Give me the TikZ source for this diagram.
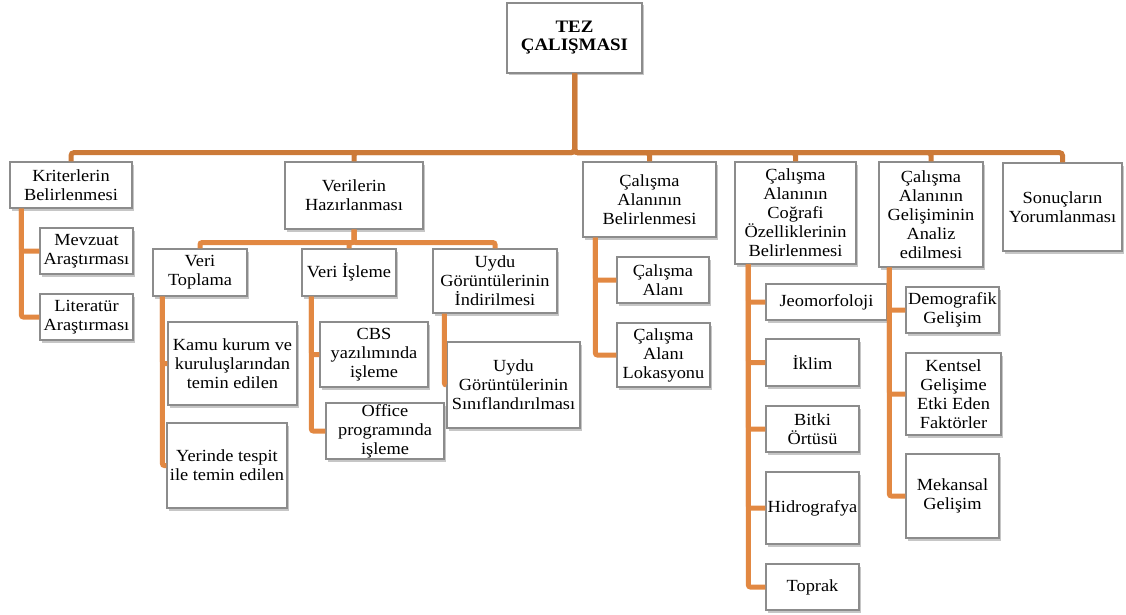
\documentclass[tikz,border=0pt]{standalone}
\usepackage{fontspec}
\setmainfont[FakeStretch=1.08]{Liberation Serif}
\usetikzlibrary{shadows}
\definecolor{linkorange}{RGB}{226,136,66}
\definecolor{trunkorange}{RGB}{204,122,56}
\definecolor{boxgray}{RGB}{140,140,140}
\tikzset{
    x=1pt,
    y=-1pt,
    box/.style = {
        draw=boxgray,
        fill=white,
        shape=rectangle,
        line width=1.2pt,
        align=center,
        inner sep=1pt,
        font=\fontsize{17}{19}\selectfont,
        drop shadow={shadow xshift=2pt, shadow yshift=-2.5pt, opacity=0.45, fill=black!50}
    },
    rootbox/.style = {
        box,
        font=\fontsize{17.5}{18}\selectfont\bfseries
    },
    trunk/.style = {
        draw=trunkorange,
        line width=5pt,
        rounded corners=3pt
    },
    link/.style = {
        draw=linkorange,
        line width=5pt,
        rounded corners=2pt
    },
}

\begin{document}
\begin{tikzpicture}
            \useasboundingbox (0,0) rectangle (1126,615);

            \node[rootbox, minimum width=135pt, minimum height=70pt] (root) at (574.5,38) {TEZ\\ÇALIŞMASI};

            % first level
            \node[box, minimum width=122pt, minimum height=46pt] (kri) at (71,185) {Kriterlerin\\Belirlenmesi};
            \node[box, minimum width=138pt, minimum height=67pt] (ver) at (354,195.5) {Verilerin\\Hazırlanması};
            \node[box, minimum width=133pt, minimum height=75pt] (cab) at (649.5,199.5) {Çalışma\\Alanının\\Belirlenmesi};
            \node[box, minimum width=121pt, minimum height=102pt] (cog) at (795.5,213) {Çalışma\\Alanının\\Coğrafi\\Özelliklerinin\\Belirlenmesi};
            \node[box, minimum width=104pt, minimum height=105pt] (gel) at (931,214.5) {Çalışma\\Alanının\\Gelişiminin\\Analiz\\edilmesi};
            \node[box, minimum width=119pt, minimum height=88pt] (son) at (1062.5,207) {Sonuçların\\Yorumlanması};

            % second level
            \node[box, minimum width=93pt, minimum height=46pt] (mev) at (86.5,251) {Mevzuat\\Araştırması};
            \node[box, minimum width=93pt, minimum height=46pt] (lit) at (86.5,317) {Literatür\\Araştırması};
            \node[box, minimum width=94pt, minimum height=47pt] (vtop) at (200,272.5) {Veri\\Toplama};
            \node[box, minimum width=94pt, minimum height=47pt] (visl) at (349,272.5) {Veri İşleme};
            \node[box, minimum width=124pt, minimum height=64pt] (uind) at (495,281) {Uydu\\Görüntülerinin\\İndirilmesi};
            \node[box, minimum width=92pt, minimum height=46pt] (cal) at (663,280) {Çalışma\\Alanı};
            \node[box, minimum width=93pt, minimum height=64pt] (lok) at (663.5,355) {Çalışma\\Alanı\\Lokasyonu};
            \node[box, minimum width=121pt, minimum height=36pt] (jeo) at (826.5,302) {Jeomorfoloji};
            \node[box, minimum width=93pt, minimum height=47pt] (ikl) at (812.5,362.5) {İklim};
            \node[box, minimum width=93pt, minimum height=46pt] (bit) at (812.5,429) {Bitki\\Örtüsü};
            \node[box, minimum width=93pt, minimum height=72pt] (hid) at (812.5,508) {Hidrografya};
            \node[box, minimum width=93pt, minimum height=46pt] (toprak) at (812.5,587) {Toprak};
            \node[box, minimum width=93pt, minimum height=46pt] (dem) at (952.5,310) {Demografik\\Gelişim};
            \node[box, minimum width=95pt, minimum height=82pt] (ken) at (953.5,394) {Kentsel\\Gelişime\\Etki Eden\\Faktörler};
            \node[box, minimum width=93pt, minimum height=84pt] (mek) at (952.5,496) {Mekansal\\Gelişim};

            % third level
            \node[box, minimum width=129pt, minimum height=83pt] (kamu) at (232.5,363.5) {Kamu kurum ve\\kuruluşlarından\\temin edilen};
            \node[box, minimum width=120pt, minimum height=85pt] (yer) at (227,465.5) {Yerinde tespit\\ile temin edilen};
            \node[box, minimum width=108pt, minimum height=65pt] (cbs) at (374,354.5) {CBS\\yazılımında\\işleme};
            \node[box, minimum width=118pt, minimum height=56pt] (off) at (385,431) {Office\\programında\\işleme};
            \node[box, minimum width=133pt, minimum height=86pt] (usin) at (513.5,385) {Uydu\\Görüntülerinin\\Sınıflandırılması};

            \foreach \n in {kri,ver,cab,cog,gel,son}
                \path[trunk] (root.south) -- ++(0,79) -| (\n.north);
            \foreach \n in {vtop,visl,uind}
                \path[link] (ver.south) -- ++(0,13) -| (\n.north);

            \path[link] ([xshift=12pt]kri.south west) |- (mev.west);
            \path[link] ([xshift=12pt]kri.south west) |- (lit.west);
            \path[link] ([xshift=10pt]vtop.south west) |- (kamu.west);
            \path[link] ([xshift=10pt]vtop.south west) |- (yer.west);
            \path[link] ([xshift=10pt]visl.south west) |- (cbs.west);
            \path[link] ([xshift=10pt]visl.south west) |- (off.west);
            \path[link] ([xshift=12pt]uind.south west) |- (usin.west);
            \path[link] ([xshift=13pt]cab.south west) |- (cal.west);
            \path[link] ([xshift=13pt]cab.south west) |- (lok.west);
            \foreach \n in {jeo,ikl,bit,hid,toprak}
                \path[link] ([xshift=14pt]cog.south west) |- (\n.west);
            \foreach \n in {dem,ken,mek}
                \path[link] ([xshift=11pt]gel.south west) |- (\n.west);
\end{tikzpicture}
\end{document}
